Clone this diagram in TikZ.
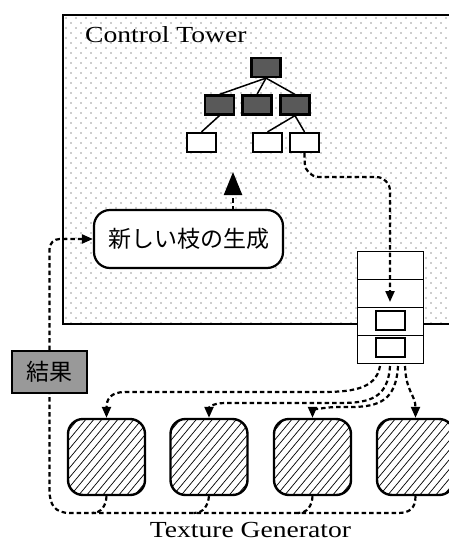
\documentclass[tikz,border=0pt]{standalone}
\usepackage{fontspec}
\setmainfont{Liberation Serif}
\newfontfamily\widefont[FakeStretch=1.2]{Liberation Serif}
\newfontfamily\jp{Noto Sans CJK JP}
\usetikzlibrary{arrows.meta,calc}
\begin{document}
\begin{tikzpicture}[x=1pt,y=-1pt,
  dline/.style={line width=2.2pt, dash pattern=on 4.5pt off 3pt},
  tip/.style={-{Triangle[width=9pt,length=11pt]}},
  treebox/.style={draw, line width=2.2pt, minimum width=29pt, minimum height=19pt, inner sep=0pt},
  dark/.style={treebox, fill=black!65},
  light/.style={treebox, fill=white},
  cell/.style={draw, line width=1pt, fill=white, minimum width=66pt, minimum height=28pt, inner sep=0pt},
  inbox/.style={draw, line width=2.6pt, fill=white, minimum width=29pt, minimum height=19pt, inner sep=0pt},
  tgbox/.style={draw, line width=2.4pt, rounded corners=15pt, fill=white, minimum width=77pt, minimum height=76pt, inner sep=0pt,
    path picture={\foreach \k in {-100,-92,...,100} \draw[line width=0.7pt] ($(path picture bounding box.center)+(\k-50,60)$) -- ++(100,-120);}},
  big/.style={font=\widefont\fontsize{23}{23}\selectfont, inner sep=0pt}
]
\useasboundingbox (0,0) rectangle (448,543);

% Control tower area
\begin{scope}
\clip (63,15) rectangle (458,324);
\foreach \j in {0,...,62} {
  \pgfmathsetmacro\off{mod(\j,2)*5}
  \foreach \i in {0,...,39} \fill[black!85] (66+\off+\i*10, 18+\j*5) circle (0.7pt);
}
\end{scope}
\draw[line width=2pt] (63,15) rectangle (458,324);
\node[big, anchor=base west] (ct) at (85,43) {Control Tower};

% tree
\node[dark] (r) at (266,67.5) {};
\node[dark] (m1) at (219.5,105) {};
\node[dark] (m2) at (257,105) {};
\node[dark] (m3) at (295,105) {};
\node[light] (b1) at (201.5,142.5) {};
\node[light] (b2) at (267.5,142.5) {};
\node[light] (b3) at (304.5,142.5) {};
\draw[line width=1.5pt] (r.south) -- (m1.north);
\draw[line width=1.5pt] (r.south) -- (m2.north);
\draw[line width=1.5pt] (r.south) -- (m3.north);
\draw[line width=1.5pt] (m1.south) -- (b1.north);
\draw[line width=1.5pt] (m3.south) -- (b2.north);
\draw[line width=1.5pt] (m3.south) -- (b3.north);

% new branch generation
\node[draw, line width=2.2pt, rounded corners=16pt, fill=white, minimum width=189pt, minimum height=58pt,
  font=\jp\fontsize{23}{23}\selectfont] (gen) at (188.5,239) {新しい枝の生成};
\coordinate (ga) at (233,210);
\coordinate (gb) at (233,172);
\draw[dline, -{Triangle[width=18pt,length=23pt]}] (ga) -- (gb);

% queue stack
\node[cell] (s1) at (390,265) {};
\node[cell] (s2) at (390,293) {};
\node[cell] (s3) at (390,321) {};
\node[cell] (s4) at (390,349) {};
\node[inbox] (i3) at (390.5,320.5) {};
\node[inbox] (i4) at (390.5,347.5) {};

\coordinate (q1) at (305,177);
\coordinate (q2) at (390,177);
\coordinate (q3) at (390,302);
\draw[dline, tip, rounded corners=14pt] (b3.south) -- (q1) -- (q2) -- (q3);

% result
\node[draw, line width=2pt, fill=black!40, minimum width=75pt, minimum height=42pt, inner sep=0pt,
  font=\jp\fontsize{23}{23}\selectfont] (kekka) at (49.5,372) {結果};

% texture generators
\node[tgbox] (tg1) at (106.5,457) {};
\node[tgbox] (tg2) at (209,457) {};
\node[tgbox] (tg3) at (312.5,457) {};
\node[tgbox] (tg4) at (415.5,457) {};
\node[big, anchor=base] (tgl) at (250.5,537) {Texture Generator};

% dispatch from stack
\coordinate (d1) at (380,366);
\coordinate (d2) at (390,366);
\coordinate (d3) at (398,366);
\coordinate (d4) at (405,366);
\draw[dline, tip] (d1) .. controls (376,390) and (350,392) .. (320,392) -- (125,392) .. controls (110,392) and (106.5,400) .. (tg1.north);
\draw[dline, tip] (d2) .. controls (388,398) and (370,403) .. (340,403) -- (225,403) .. controls (212,403) and (209,408) .. (tg2.north);
\draw[dline, tip] (d3) .. controls (396,400) and (380,407) .. (350,407) -- (335,407) .. controls (318,408) and (312.5,411) .. (tg3.north);
\draw[dline, tip] (d4) .. controls (406,392) and (415.5,395) .. (tg4.north);

% return path
\coordinate (e1) at (398,513);
\coordinate (e2) at (70,513);
\coordinate (e3) at (49.5,490);
\draw[dline] (tg4.south) .. controls (415.5,508) and (410,513) .. (e1) -- (e2) .. controls (55,513) and (49.5,505) .. (e3) -- (kekka.south);
\coordinate (f3) at (298,513);
\coordinate (f2) at (194,513);
\coordinate (f1) at (92,513);
\draw[dline] (tg3.south) .. controls (312,505) and (308,513) .. (f3);
\draw[dline] (tg2.south) .. controls (208,505) and (204,513) .. (f2);
\draw[dline] (tg1.south) .. controls (106,505) and (102,513) .. (f1);

\coordinate (k1) at (49.5,239);
\draw[dline, tip, rounded corners=10pt] (kekka.north) -- (k1) -- (gen.west);
\end{tikzpicture}
\end{document}
